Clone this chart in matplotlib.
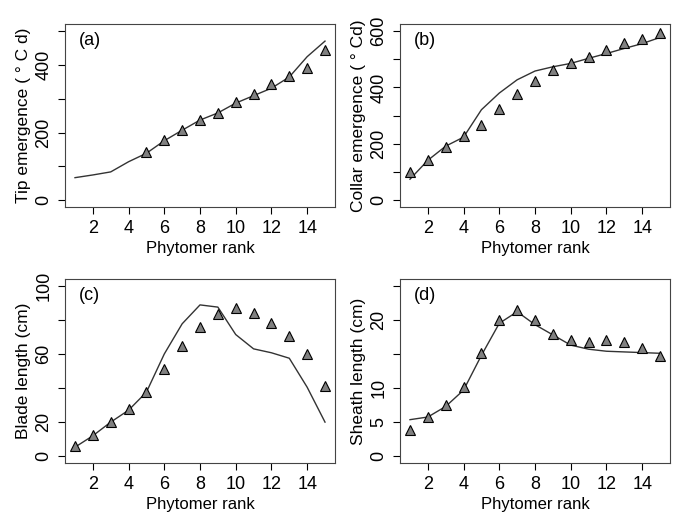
import numpy as np
import matplotlib.pyplot as plt

plt.rcParams['font.family'] = ['Liberation Sans', 'DejaVu Sans']

rank = np.arange(1, 16)

# (a) tip emergence
tip_sim = [67, 75, 84, 114, 139, 176, 207, 237, 258, 287, 309, 331, 364, 424, 470]
tip_obs_rank = np.arange(5, 16)
tip_obs = [143, 177, 207, 236, 258, 289, 313, 343, 368, 391, 444]

# (b) collar emergence
col_sim = [75, 142, 192, 224, 321, 380, 427, 458, 473, 485, 503, 520, 538, 555, 577]
col_obs = [101, 142, 189, 227, 267, 323, 377, 422, 462, 488, 509, 532, 558, 573, 592]

# (c) blade length
bl_sim = [5.3, 12, 20, 27, 37.6, 60, 77.7, 88.8, 87.5, 71.4, 63, 60.7, 57.5, 40.5, 20]
bl_obs = [5.9, 12.3, 19.8, 27.6, 37.6, 51.3, 64.4, 75.7, 83.6, 86.9, 84, 77.9, 70.3, 60, 41]

# (d) sheath length
sh_sim = [5.36, 5.75, 7.3, 9.7, 14.8, 19.5, 21.2, 19.3, 17.8, 16.3, 15.7, 15.4, 15.3, 15.2, 15.1]
sh_obs = [3.8, 5.75, 7.5, 10.2, 15.1, 20, 21.5, 20, 18, 17.1, 16.7, 17.1, 16.7, 15.9, 14.7]

panels = [
    dict(pos=[0.0963, 0.597, 0.4, 0.356], tag="(a)", ylab="Tip emergence ( ° C d)",
         sim=tip_sim, ox=tip_obs_rank, oy=tip_obs, ylim=(0, 500), step=100, labs=[0, 200, 400]),
    dict(pos=[0.5926, 0.597, 0.4, 0.356], tag="(b)", ylab="Collar emergence ( ° Cd)",
         sim=col_sim, ox=rank, oy=col_obs, ylim=(0, 600), step=100, labs=[0, 200, 400, 600]),
    dict(pos=[0.0963, 0.0992, 0.4, 0.358], tag="(c)", ylab="Blade length (cm)",
         sim=bl_sim, ox=rank, oy=bl_obs, ylim=(0, 100), step=20, labs=[0, 20, 60, 100]),
    dict(pos=[0.5926, 0.0992, 0.4, 0.358], tag="(d)", ylab="Sheath length (cm)",
         sim=sh_sim, ox=rank, oy=sh_obs, ylim=(0, 25), step=5, labs=[0, 5, 10, 20]),
]

fig = plt.figure(figsize=(6.75, 5.14), dpi=100)

for p in panels:
    ax = fig.add_axes(p["pos"])
    ax.plot(rank, p["sim"], color="#333333", lw=1)
    ax.plot(p["ox"], p["oy"], linestyle="none", marker="^", markersize=6.5,
            markerfacecolor="#808080", markeredgecolor="black", markeredgewidth=0.8)
    lo, hi = p["ylim"]
    pad = (hi - lo) * 0.04
    ax.set_ylim(lo - pad, hi + pad)
    ax.set_xlim(1 - 0.56, 15 + 0.56)
    ax.set_xticks(range(2, 15, 2))
    yt = np.arange(lo, hi + p["step"] / 2, p["step"])
    ax.set_yticks(yt)
    ax.set_yticklabels([str(int(v)) if v in p["labs"] else "" for v in yt],
                       rotation=90, va="center")
    ax.tick_params(direction="out", length=5, width=0.8, labelsize=13, pad=4)
    ax.set_xlabel("Phytomer rank", fontsize=12, labelpad=3)
    ax.set_ylabel(p["ylab"], fontsize=12.5, labelpad=3)
    ax.text(0.05, 0.955, p["tag"], transform=ax.transAxes, fontsize=13,
            ha="left", va="top")
    for s in ax.spines.values():
        s.set_linewidth(0.8)
        s.set_color("#444444")

fig.savefig("out.png", dpi=100)
